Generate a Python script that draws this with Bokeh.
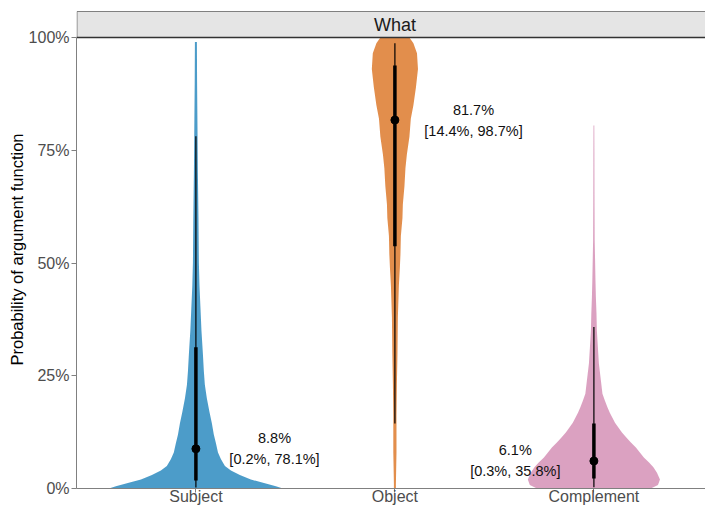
from bokeh.plotting import figure
from bokeh.models import Range1d, FixedTicker, NumeralTickFormatter
from bokeh.core.properties import value
from bokeh.embed import file_html
from bokeh.resources import INLINE

# ---------------- data ----------------
categories = ["Subject", "Object", "Complement"]
colors = ["#0072B2", "#D55E00", "#CC79A7"]
panel_title = "What"

# violin outlines: probability levels and half-widths (in category units)
subj_y = [0.0, 0.005, 0.012, 0.02, 0.03, 0.04, 0.05, 0.065, 0.08, 0.1, 0.12, 0.145,
          0.17, 0.2, 0.23, 0.26, 0.3, 0.35, 0.4, 0.45, 0.5, 0.6, 0.7, 0.8, 0.9, 0.99]
subj_w = [0.437, 0.402, 0.342, 0.276, 0.221, 0.176, 0.146, 0.126, 0.111, 0.101, 0.090, 0.080,
          0.068, 0.055, 0.045, 0.040, 0.035, 0.028, 0.023, 0.018, 0.015, 0.013, 0.010, 0.008, 0.006, 0.005]

obj_y = [0.0, 0.01, 0.08, 0.16, 0.23, 0.3, 0.38, 0.45, 0.49, 0.52, 0.56, 0.6, 0.63, 0.67,
         0.71, 0.74, 0.78, 0.82, 0.85, 0.89, 0.93, 0.965, 0.987, 1.0]
obj_w = [0.005, 0.005, 0.008, 0.008, 0.010, 0.013, 0.015, 0.020, 0.025, 0.028, 0.030, 0.038,
         0.040, 0.048, 0.053, 0.060, 0.073, 0.080, 0.093, 0.106, 0.116, 0.111, 0.093, 0.073]

comp_y = [0.0, 0.008, 0.02, 0.035, 0.047, 0.058, 0.069, 0.08, 0.091, 0.102, 0.113, 0.124,
          0.135, 0.146, 0.157, 0.168, 0.18, 0.195, 0.21, 0.24, 0.277, 0.313, 0.35, 0.388,
          0.424, 0.46, 0.55, 0.65, 0.75, 0.805]
comp_w = [0.286, 0.322, 0.332, 0.317, 0.299, 0.276, 0.251, 0.231, 0.211, 0.186, 0.163, 0.141,
          0.123, 0.106, 0.093, 0.080, 0.068, 0.055, 0.043, 0.035, 0.025, 0.020, 0.015, 0.013,
          0.010, 0.008, 0.004, 0.003, 0.0025, 0.002]

violin_y = [subj_y, obj_y, comp_y]
violin_w = [subj_w, obj_w, comp_w]

# point summaries
medians = [0.088, 0.817, 0.061]
lo95 = [0.002, 0.144, 0.003]
hi95 = [0.781, 0.987, 0.358]
lo_inner = [0.018, 0.537, 0.022]
hi_inner = [0.313, 0.938, 0.144]
median_labels = ["8.8%", "81.7%", "6.1%"]
interval_labels = ["[0.2%, 78.1%]", "[14.4%, 98.7%]", "[0.3%, 35.8%]"]
label_side = [1, 1, -1]

y_ticks = [0.0, 0.25, 0.5, 0.75, 1.0]

# ---------------- figure ----------------
FONT = "Liberation Sans"
W, H = 705, 507
LEFT, TOP, BOTTOM = 76, 10, 19
px_per_unit = 199.0
x_start = 0.4
frame_w = W - LEFT
x_end = x_start + frame_w / px_per_unit
strip_h = 26 / 451.0
y_top = 1.0 + strip_h + 1 / 451.0

p = figure(width=W, height=H, output_backend="svg", toolbar_location=None,
           x_range=Range1d(x_start, x_end), y_range=Range1d(0, y_top),
           min_border_left=LEFT, min_border_right=0, min_border_top=TOP, min_border_bottom=BOTTOM)
p.outline_line_color = None
p.xgrid.grid_line_color = None
p.ygrid.grid_line_color = None
p.background_fill_color = "white"
p.border_fill_color = "white"

xpos = [i + 1 for i in range(len(categories))]

# violins
for xc, ys, ws, col in zip(xpos, violin_y, violin_w, colors):
    px = [xc - w for w in ws] + [xc + w for w in reversed(ws)]
    py = list(ys) + list(reversed(ys))
    p.patch(px, py, fill_color=col, fill_alpha=0.7, line_color=None)

# intervals
p.segment(x0=xpos, y0=lo95, x1=xpos, y1=hi95, line_color="black", line_width=1.2)
p.segment(x0=xpos, y0=lo_inner, x1=xpos, y1=hi_inner, line_color="black", line_width=3.5)
p.scatter(x=xpos, y=medians, size=8, color="black")

# labels
lx = [xc + s * 0.395 for xc, s in zip(xpos, label_side)]
p.text(x=lx, y=medians, text=median_labels, text_align="center", text_baseline="middle",
       y_offset=-10.5, text_font=value(FONT), text_font_size="14.5px", text_color="#111111")
p.text(x=lx, y=medians, text=interval_labels, text_align="center", text_baseline="middle",
       y_offset=10.5, text_font=value(FONT), text_font_size="14.5px", text_color="#111111")

# facet strip
p.quad(left=x_start + 0.5 / px_per_unit, right=x_end + 1, bottom=1.0, top=1.0 + strip_h,
       fill_color="#E5E5E5", line_color="#808080", line_width=1)
p.segment(x0=[x_start], y0=[1.0], x1=[x_end + 1], y1=[1.0], line_color="#333333", line_width=1.6)
p.text(x=[(x_start + 3.6) / 2], y=[1.0 + strip_h / 2], text=[panel_title], text_align="center",
       text_baseline="middle", text_font=value(FONT), text_font_size="18px", text_color="#1A1A1A")

# axes
xa = p.xaxis[0]
xa.ticker = FixedTicker(ticks=xpos)
xa.major_label_overrides = {x: c for x, c in zip(xpos, categories)}
xa.minor_tick_line_color = None
xa.major_tick_out = 4
xa.major_tick_in = 0
xa.major_label_standoff = -5
xa.axis_line_color = "#808080"
xa.major_tick_line_color = "#808080"
xa.major_label_text_font = FONT
xa.major_label_text_font_size = "16px"
xa.major_label_text_color = "#4D4D4D"

ya = p.yaxis[0]
ya.ticker = FixedTicker(ticks=y_ticks)
ya.formatter = NumeralTickFormatter(format="0%")
ya.bounds = (0, 1)
ya.minor_tick_line_color = None
ya.major_tick_out = 5
ya.major_tick_in = 0
ya.major_label_standoff = 2
ya.axis_line_color = "#808080"
ya.major_tick_line_color = "#808080"
ya.major_label_text_font = FONT
ya.major_label_text_font_size = "16px"
ya.major_label_text_color = "#4D4D4D"
ya.axis_label = "Probability of argument function"
ya.axis_label_text_font = FONT
ya.axis_label_text_font_size = "16.5px"
ya.axis_label_text_font_style = "normal"
ya.axis_label_text_color = "black"
ya.axis_label_standoff = 0

open("out.html", "w").write(file_html(p, INLINE))
